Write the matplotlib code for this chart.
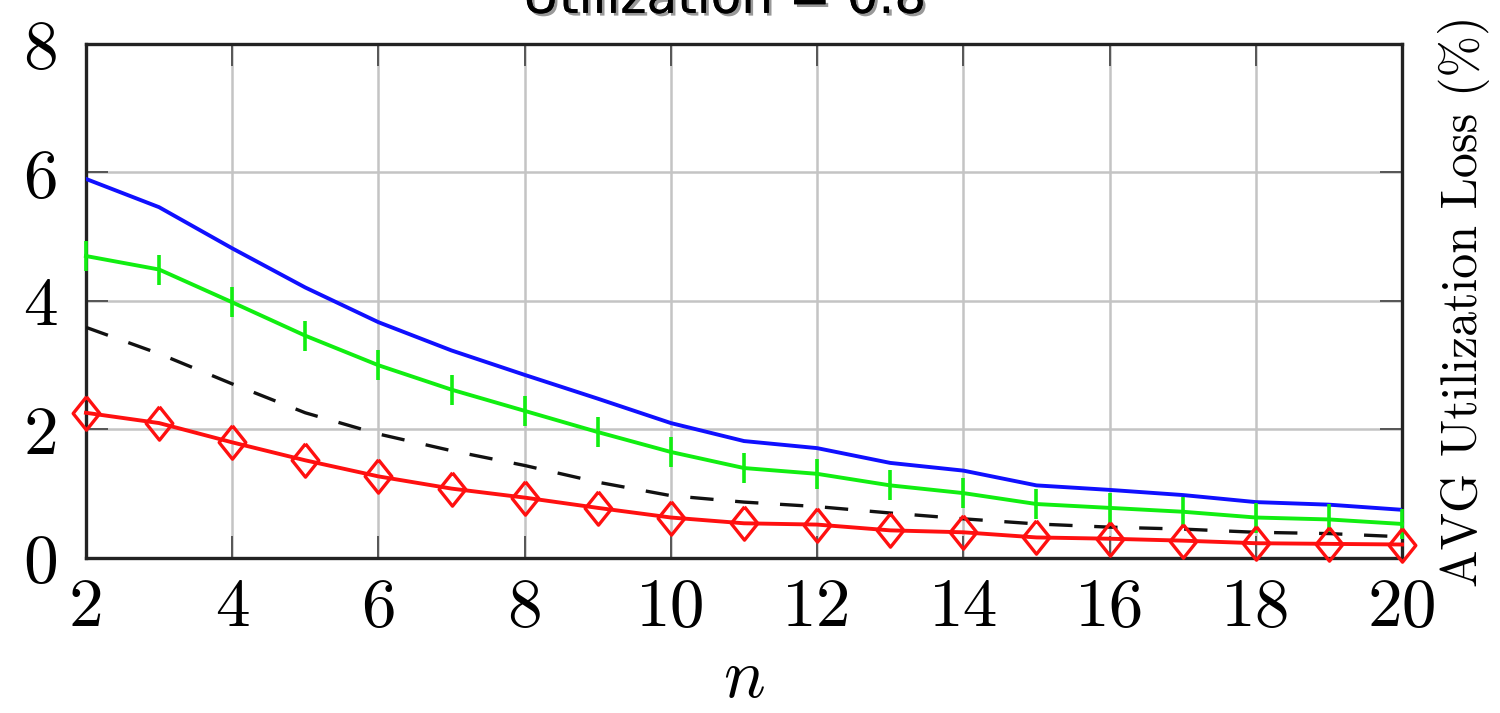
import numpy as np
import matplotlib
matplotlib.use('Agg')
import matplotlib.pyplot as plt
import matplotlib.patheffects as pe

# values
n = [2, 3, 4, 5, 6, 7, 8, 9, 10, 11, 12, 13, 14, 15, 16, 17, 18, 19, 20]
blue = [5.90, 5.46, 4.82, 4.21, 3.67, 3.23, 2.85, 2.48, 2.10, 1.82, 1.71, 1.48, 1.36,
        1.13, 1.06, 0.98, 0.87, 0.83, 0.75]
green = [4.70, 4.49, 3.98, 3.46, 3.00, 2.62, 2.29, 1.96, 1.65, 1.40, 1.31, 1.13, 1.01,
         0.84, 0.78, 0.72, 0.63, 0.60, 0.53]
dashed = [3.59, 3.18, 2.71, 2.26, 1.93, 1.67, 1.44, 1.18, 0.97, 0.87, 0.80, 0.70, 0.61,
          0.53, 0.48, 0.45, 0.40, 0.38, 0.33]
red = [2.26, 2.10, 1.80, 1.52, 1.27, 1.08, 0.94, 0.78, 0.63, 0.54, 0.52, 0.43, 0.40,
       0.32, 0.30, 0.27, 0.23, 0.22, 0.21]

xticks = [2, 4, 6, 8, 10, 12, 14, 16, 18, 20]
yticks = [0, 2, 4, 6, 8]
title = 'Utilization = 0.8'
ylabel = 'AVG Utilization Loss (%)'

plt.rcParams['mathtext.fontset'] = 'cm'

fig = plt.figure(figsize=(15, 7.13), dpi=100)
ax = fig.add_axes([0.0573, 0.2174, 0.8774, 0.7209])

ax.grid(True, color='#c4c4c4', lw=1.8, zorder=0)
ax.set_axisbelow(True)

diamond = [(0, 1), (0.8, 0), (0, -1), (-0.8, 0), (0, 1)]

ax.plot(n, blue, color='#1010ff', lw=2.8, zorder=3)
ax.plot(n, green, color='#11ee11', lw=2.8, marker='|', markersize=22,
        markeredgewidth=2.6, zorder=3, clip_on=False)
ax.plot(n, dashed, color='#111111', lw=2.4, dashes=(7, 6.5), zorder=3)
ax.plot(n, red, color='#ff1010', lw=2.8, marker=diamond, markersize=24,
        markerfacecolor='none', markeredgewidth=2.4, zorder=4, clip_on=False)

ax.set_xlim(2, 20)
ax.set_ylim(0, 8)
ax.set_xticks(xticks)
ax.set_yticks(yticks)
ax.set_xticklabels([str(v) for v in xticks], fontfamily='cmr10', fontsize=50)
ax.set_yticklabels([str(v) for v in yticks], fontfamily='cmr10', fontsize=50)
ax.tick_params(direction='in', length=16, width=1.4, color='#555555',
               top=True, right=True)
ax.tick_params(axis='x', pad=14)
ax.tick_params(axis='y', pad=20)

for s in ax.spines.values():
    s.set_linewidth(2.4)
    s.set_color('#222222')

ax.set_xlabel('$n$', fontsize=50, labelpad=4)
ax.yaxis.set_label_position('right')
ax.set_ylabel(ylabel, fontfamily='cmr10', fontsize=36, labelpad=26)

fig.text(0.483, 0.982, title, ha='center', va='baseline', fontsize=36,
         fontfamily='DejaVu Sans', color='black',
         path_effects=[pe.withSimplePatchShadow(offset=(2, -2), alpha=0.4), pe.Normal()])

fig.savefig('out.png', dpi=100)
